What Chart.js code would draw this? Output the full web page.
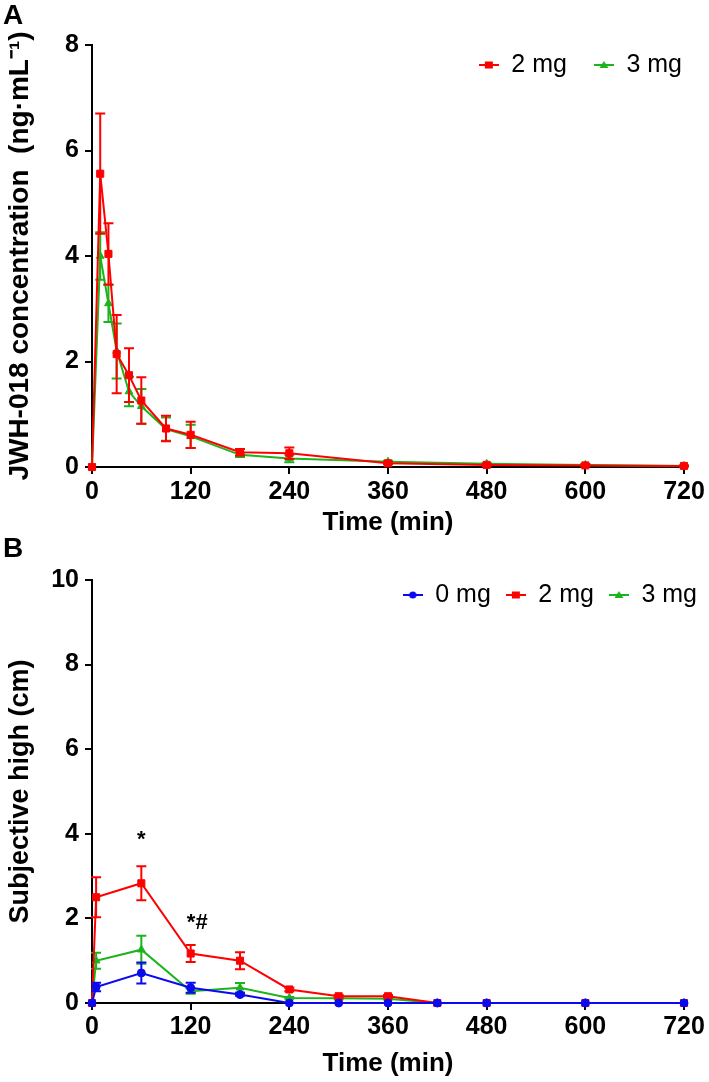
<!DOCTYPE html>
<html>
<head>
<meta charset="utf-8">
<script src="https://cdn.jsdelivr.net/npm/chart.js@4.4.1/dist/chart.umd.min.js"></script>
<style>
html,body{margin:0;padding:0;background:#fff;width:709px;height:1082px;overflow:hidden;}
.panel{position:absolute;left:0;width:709px;}
.lbl{position:absolute;left:3px;font:bold 28px "Liberation Sans",Arial,sans-serif;color:#000;line-height:32px;z-index:5;}
</style>
</head>
<body>
<div class="panel" style="top:0;height:545px"><canvas id="cA" width="709" height="545" style="width:709px;height:545px"></canvas></div>
<div class="panel" style="top:545px;height:537px"><canvas id="cB" width="709" height="537" style="width:709px;height:537px"></canvas></div>
<div class="lbl" style="top:-1px">A</div>
<div class="lbl" style="top:532px">B</div>
<script>
// ---------- Panel A data: JWH-018 serum concentration (ng/mL), mean ± SEM ----------
const timeA = [0, 10, 20, 30, 45, 60, 90, 120, 180, 240, 360, 480, 600, 720];
const concA_2mg     = [0, 5.56, 4.04, 2.14, 1.74, 1.26, 0.73, 0.61, 0.28, 0.26, 0.07, 0.04, 0.03, 0.02];
const concA_2mg_err = [0, 1.14, 0.58, 0.74, 0.51, 0.44, 0.24, 0.25, 0.06, 0.11, 0.02, 0.02, 0.02, 0.01];
const concA_3mg     = [0, 4.00, 3.10, 2.20, 1.43, 1.15, 0.72, 0.58, 0.23, 0.16, 0.10, 0.06, 0.04, 0.02];
const concA_3mg_err = [0, 0.45, 0.35, 0.52, 0.28, 0.33, 0.22, 0.22, 0.04, 0.07, 0.02, 0.01, 0.01, 0.01];

// ---------- Panel B data: subjective high (cm), mean ± SEM ----------
const timeB = [0, 5, 60, 120, 180, 240, 300, 360, 420, 480, 600, 720];
const highB_0mg     = [0, 0.38, 0.71, 0.36, 0.20, 0, 0, 0, 0, 0, 0, 0];
const highB_0mg_err = [0, 0.10, 0.25, 0.12, 0.03, 0, 0, 0, 0, 0, 0, 0];
const highB_2mg     = [0, 2.50, 2.83, 1.17, 1.00, 0.32, 0.16, 0.16, 0, 0, 0, 0];
const highB_2mg_err = [0, 0.47, 0.40, 0.20, 0.20, 0.04, 0.03, 0.03, 0, 0, 0, 0];
const highB_3mg     = [0, 1.00, 1.26, 0.28, 0.36, 0.12, 0.11, 0.10, 0, 0, 0, 0];
const highB_3mg_err = [0, 0.19, 0.33, 0.06, 0.11, 0.02, 0.02, 0.02, 0, 0, 0, 0];

// significance marks (time, value, text)
const sigTime = [60, 128];
const sigValue = [3.85, 1.9];
const sigText = ['*', '*#'];

// axis ticks
const xTickStep = 120, xMax = 720;
const yMaxA = 8, yMaxB = 10, yStep = 2;

const RED = '#ff0000', GREEN = '#1cb41c', BLUE = '#0a0aee';
const FONT = '"Liberation Sans", Arial, Helvetica, sans-serif';
Chart.defaults.font.family = FONT;
Chart.defaults.color = '#000';

function pts(t, v) { return t.map((x, i) => ({x: x, y: v[i]})); }

function legendIcon(ds) {
  const c = document.createElement('canvas');
  c.width = 20; c.height = 12;
  const g = c.getContext('2d');
  g.strokeStyle = ds.borderColor; g.fillStyle = ds.borderColor; g.lineWidth = 2;
  g.beginPath(); g.moveTo(0, 6); g.lineTo(20, 6); g.stroke();
  if (ds.pointStyle === 'rect') { g.fillRect(6, 2.5, 8, 7); }
  else if (ds.pointStyle === 'triangle') { g.beginPath(); g.moveTo(10, 2); g.lineTo(14.5, 9); g.lineTo(5.5, 9); g.closePath(); g.fill(); }
  else { g.beginPath(); g.arc(10, 6, 3.6, 0, Math.PI * 2); g.fill(); }
  return c;
}

const errorBars = {
  id: 'errorBars',
  beforeDatasetDraw(chart, args) {
    const ds = chart.data.datasets[args.index];
    if (!ds.errors) return;
    const xs = chart.scales.x, ys = chart.scales.y, ctx = chart.ctx;
    ctx.save();
    ctx.strokeStyle = ds.borderColor; ctx.lineWidth = 2;
    ds.data.forEach((p, i) => {
      const e = ds.errors[i];
      if (!e) return;
      const x = xs.getPixelForValue(p.x);
      const yt = ys.getPixelForValue(p.y + e), yb = ys.getPixelForValue(p.y - e);
      ctx.beginPath();
      ctx.moveTo(x, yt); ctx.lineTo(x, yb);
      ctx.moveTo(x - 5, yt); ctx.lineTo(x + 5, yt);
      ctx.moveTo(x - 5, yb); ctx.lineTo(x + 5, yb);
      ctx.stroke();
    });
    ctx.restore();
  }
};

// legend is laid out horizontally at the top but takes no layout height;
// it is then placed inside the plot area at the given right edge / centre line
const legendPlace = {
  id: 'legendPlace',
  beforeUpdate(chart) {
    const lg = chart.legend;
    if (lg && !lg._zeroPatched) {
      const origFit = lg.fit;
      lg.fit = function() { origFit.call(this); this.height = 0; };
      lg._zeroPatched = true;
    }
  },
  beforeDraw(chart, args, opts) {
    const lg = chart.legend;
    if (!lg || opts.right == null) return;
    const pad = lg.options.labels.padding;
    const fs = lg.options.labels.font.size;
    lg.left = 0; lg.right = opts.right; lg.width = opts.right;
    lg.top = opts.centerY - pad - fs / 2; lg.bottom = lg.top + fs + 2 * pad + 10;
    lg.height = lg.bottom - lg.top;
  }
};

const sigMarks = {
  id: 'sigMarks',
  afterDatasetsDraw(chart, args, opts) {
    if (!opts.show) return;
    const ctx = chart.ctx, xs = chart.scales.x, ys = chart.scales.y;
    ctx.save();
    ctx.fillStyle = '#000'; ctx.font = 'bold 22px ' + FONT;
    ctx.textAlign = 'center'; ctx.textBaseline = 'middle';
    sigTime.forEach((t, i) => ctx.fillText(sigText[i], xs.getPixelForValue(t), ys.getPixelForValue(sigValue[i])));
    ctx.restore();
  }
};

function axisX(height, titlePadBottom, tickPad) {
  return {
    type: 'linear', min: 0, max: xMax,
    ticks: {stepSize: xTickStep, font: {size: 25, weight: 'bold'}, color: '#000', padding: tickPad, maxRotation: 0},
    grid: {drawOnChartArea: false, drawTicks: true, tickLength: 7, color: '#000', lineWidth: 2},
    border: {display: true, color: '#000', width: 2},
    title: {display: true, text: 'Time (min)', color: '#000', font: {size: 26, weight: 'bold', lineHeight: 1.2}, padding: {top: 0, bottom: titlePadBottom}},
    afterFit(s) { s.height = height; }
  };
}
function axisY(max, title, titleSize, titlePadTop) {
  return {
    min: 0, max: max,
    ticks: {stepSize: yStep, font: {size: 25, weight: 'bold'}, color: '#000', padding: 6},
    grid: {drawOnChartArea: false, drawTicks: true, tickLength: 7, color: '#000', lineWidth: 2},
    border: {display: true, color: '#000', width: 2},
    title: {display: true, text: title, color: '#000', font: {size: titleSize, weight: 'bold', lineHeight: 1.2}, padding: {top: titlePadTop, bottom: 0}},
    afterFit(s) { s.width = 92; }
  };
}
function legendOpts(pad) {
  return {
    display: true, position: 'top', align: 'end',
    labels: {
      usePointStyle: true, pointStyleWidth: 20, padding: pad, color: '#000',
      font: {size: 25, weight: 'normal', family: FONT},
      generateLabels(chart) {
        const items = Chart.defaults.plugins.legend.labels.generateLabels(chart);
        items.forEach(it => { it.pointStyle = legendIcon(chart.data.datasets[it.datasetIndex]); });
        return items;
      }
    }
  };
}
function series(label, t, v, e, color, style, radius) {
  return {label: label, data: pts(t, v), errors: e, borderColor: color, backgroundColor: color,
    pointBackgroundColor: color, pointBorderColor: color, pointStyle: style, pointRadius: radius,
    pointBorderWidth: 1, borderWidth: 2, tension: 0, clip: false, fill: false};
}

new Chart(document.getElementById('cA'), {
  type: 'line',
  data: {datasets: [
    series('2 mg', timeA, concA_2mg, concA_2mg_err, RED, 'rect', 5),
    series('3 mg', timeA, concA_3mg, concA_3mg_err, GREEN, 'triangle', 4.5)
  ]},
  options: {
    responsive: false, animation: false, devicePixelRatio: 1,
    layout: {padding: {left: 0, right: 25, top: 45, bottom: 0}},
    scales: {
      x: axisX(78, 7, 3),
      y: axisY(yMaxA, 'JWH-018 concentration  (ng\u00b7mL\u207b\u00b9)', 28, 3)
    },
    plugins: {
      legend: legendOpts(27),
      legendPlace: {right: 709, centerY: 65},
      sigMarks: {show: false},
      tooltip: {enabled: false}
    }
  },
  plugins: [errorBars, legendPlace, sigMarks]
});

new Chart(document.getElementById('cB'), {
  type: 'line',
  data: {datasets: [
    series('0 mg', timeB, highB_0mg, highB_0mg_err, BLUE, 'circle', 4),
    series('2 mg', timeB, highB_2mg, highB_2mg_err, RED, 'rect', 5),
    series('3 mg', timeB, highB_3mg, highB_3mg_err, GREEN, 'triangle', 4.5)
  ]},
  options: {
    responsive: false, animation: false, devicePixelRatio: 1,
    layout: {padding: {left: 0, right: 25, top: 35, bottom: 0}},
    scales: {
      x: axisX(79, 3, 2),
      y: axisY(yMaxB, 'Subjective high (cm)', 27, 4)
    },
    plugins: {
      legend: legendOpts(15),
      legendPlace: {right: 712, centerY: 50},
      sigMarks: {show: true},
      tooltip: {enabled: false}
    }
  },
  plugins: [errorBars, legendPlace, sigMarks]
});
</script>
</body>
</html>
